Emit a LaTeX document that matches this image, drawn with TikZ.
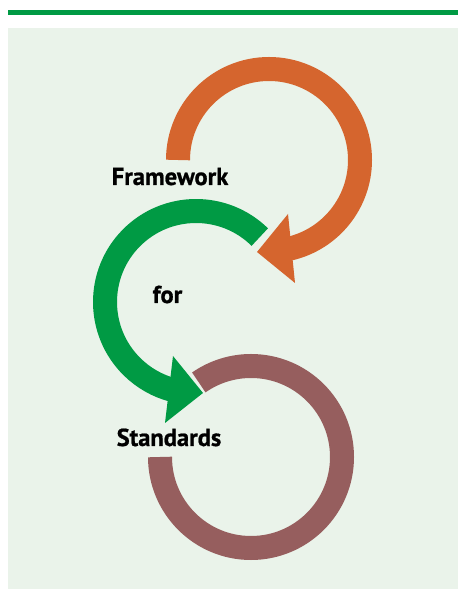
\documentclass[tikz,border=0pt]{standalone}
\usepackage{fontspec}
\newfontfamily\wordfont[BoldFeatures={FakeBold=0.8}]{PT Sans}
\definecolor{bandgreen}{RGB}{0,154,68}
\definecolor{panelbg}{RGB}{234,243,234}
\definecolor{looporange}{RGB}{213,101,46}
\definecolor{loopgreen}{RGB}{0,154,68}
\definecolor{loopbrown}{RGB}{150,94,94}
\tikzset{word/.style={font=\wordfont\bfseries\fontsize{24.5}{28}\selectfont, anchor=base, inner sep=0pt}}
\begin{document}
\begin{tikzpicture}[x=1pt,y=1pt]
\useasboundingbox (0,0) rectangle (458,589);
\fill[bandgreen] (8,573.5) rectangle (458,579);
\fill[panelbg] (8,0) rectangle (458,561);

\coordinate (orc) at (269,429);
\coordinate (grc) at (196,287);
\coordinate (brc) at (251,132);

% top loop
\draw[looporange,line width=24pt] ([shift={(180:91)}]orc) arc[start angle=180,end angle=-77,radius=91];
\fill[looporange] (288,375) -- (295,306) -- (257,337) -- cycle;

% middle loop
\draw[loopgreen,line width=24pt] ([shift={(45.5:91)}]grc) arc[start angle=45.5,end angle=255,radius=91];
\fill[loopgreen] (173,233) -- (165,166) -- (203,196) -- cycle;

% bottom loop
\draw[loopbrown,line width=24pt] ([shift={(180:91)}]brc) arc[start angle=180,end angle=485,radius=91];

\node[word] (fw) at (170,404) {Framework};
\node[word] (fr) at (167.5,286) {for};
\node[word] (st) at (169,143) {Standards};
\end{tikzpicture}
\end{document}
